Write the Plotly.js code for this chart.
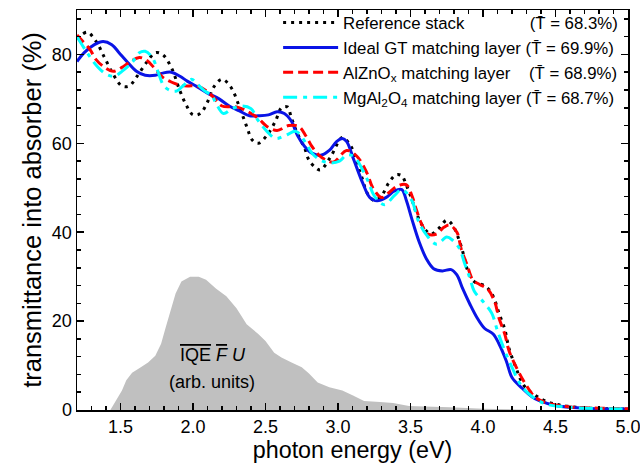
<!DOCTYPE html>
<html>
<head>
<meta charset="utf-8">
<script src="https://cdn.plot.ly/plotly-3.0.1.min.js"></script>
<style>html,body{margin:0;padding:0;background:#fff;}#chart{width:640px;height:472px;}</style>
</head>
<body>
<div id="chart"></div>
<script>
// Reference stack (black dotted)
const E_ref = [1.20,1.27,1.33,1.39,1.45,1.51,1.56,1.61,1.68,1.74,1.79,1.85,1.91,1.96,2.00,2.05,2.10,2.14,2.20,2.26,
  2.32,2.37,2.41,2.45,2.51,2.57,2.61,2.65,2.68,2.72,2.77,2.80,2.85,2.88,2.95,3.03,3.09,3.13,3.17,3.20,
  3.25,3.30,3.35,3.40,3.44,3.47,3.51,3.54,3.58,3.64,3.69,3.75,3.79,3.84,3.87,3.89,3.94,4.02,4.07,4.11,
  4.15,4.18,4.23,4.28,4.36,4.45,4.55,4.70,4.85,5.00];
const T_ref = [83.5,85.0,83.0,79.3,75.5,72.9,72.9,74.9,78.2,80.4,80.0,77.1,71.8,68.2,66.4,66.7,69.3,72.5,74.4,72.7,
  68.2,63.8,60.7,60.0,61.8,65.1,68.0,68.2,65.6,62.2,58.9,56.2,54.4,54.0,57.0,61.3,59.3,55.6,51.8,48.9,
  47.1,48.2,51.1,52.9,52.7,50.7,47.3,44.4,41.6,39.6,40.7,42.7,41.6,37.8,34.4,31.8,28.9,27.8,25.6,21.8,
  18.2,13.8,9.3,5.6,3.3,1.8,1.0,0.5,0.3,0.2];

// Ideal GT matching layer (blue solid)
const E_gt = [1.20,1.25,1.32,1.38,1.44,1.49,1.55,1.61,1.67,1.74,1.79,1.85,1.91,1.96,2.03,2.10,2.18,2.25,2.32,2.39,
  2.45,2.52,2.58,2.63,2.68,2.72,2.77,2.82,2.88,2.94,2.99,3.03,3.06,3.11,3.17,3.22,3.27,3.33,3.39,3.44,
  3.47,3.51,3.56,3.61,3.66,3.72,3.78,3.82,3.86,3.91,3.96,4.01,4.07,4.11,4.16,4.20,4.27,4.34,4.38,4.50,
  4.70,5.00];
const T_gt = [78.4,80.4,82.2,82.9,82.2,80.4,78.2,76.2,75.3,75.3,75.8,76.0,75.1,74.0,72.7,71.3,70.0,68.4,67.3,66.2,
  66.2,66.4,67.1,66.7,64.9,61.8,59.3,57.8,57.3,58.4,60.4,61.1,60.4,56.2,51.1,47.8,47.1,47.8,49.3,49.6,
  47.3,42.9,37.8,34.0,31.8,31.3,31.6,30.4,27.3,23.8,20.7,18.4,17.1,14.9,11.1,7.3,4.9,2.9,2.2,1.0,
  0.4,0.2];

// AlZnOx matching layer (red dashed)
const E_azo = [1.20,1.23,1.29,1.33,1.39,1.45,1.51,1.56,1.63,1.68,1.74,1.79,1.85,1.91,1.96,2.03,2.10,2.14,2.20,2.30,
  2.37,2.45,2.51,2.58,2.66,2.73,2.78,2.82,2.87,2.92,2.97,3.06,3.13,3.20,3.24,3.30,3.35,3.41,3.47,3.51,
  3.54,3.58,3.62,3.68,3.73,3.77,3.82,3.85,3.89,3.93,3.98,4.03,4.08,4.11,4.15,4.18,4.23,4.29,4.36,4.45,
  4.60,4.80,5.00];
const T_azo = [84.4,83.3,81.1,78.9,77.1,76.2,77.1,78.2,79.3,78.7,76.7,74.9,73.8,73.1,72.9,72.9,71.6,70.4,68.4,68.2,
  67.3,65.6,63.8,62.9,64.0,63.8,61.6,59.3,57.3,56.2,55.8,58.4,57.1,53.3,50.0,47.8,48.9,50.4,50.7,48.2,
  45.1,41.6,39.6,39.6,41.1,41.6,40.0,36.2,32.7,29.3,28.2,27.3,24.4,20.7,17.1,13.3,9.6,6.0,2.9,1.5,
  0.7,0.4,0.3];

// MgAl2O4 matching layer (cyan dash-dot)
const E_mao = [1.20,1.27,1.34,1.40,1.46,1.51,1.58,1.63,1.67,1.72,1.76,1.80,1.85,1.89,1.93,1.99,2.03,2.08,2.13,2.16,
  2.21,2.27,2.34,2.40,2.45,2.51,2.57,2.64,2.71,2.78,2.82,2.88,2.94,3.01,3.06,3.11,3.20,3.25,3.32,3.39,
  3.44,3.51,3.55,3.61,3.68,3.75,3.79,3.84,3.87,3.91,3.94,4.00,4.06,4.10,4.15,4.20,4.25,4.31,4.42,4.60,
  5.00];
const T_mao = [84.0,80.4,77.3,75.6,75.1,76.2,78.2,80.4,80.7,79.3,76.0,72.9,71.8,71.8,72.9,74.4,73.3,71.8,70.7,68.9,
  66.7,67.8,68.4,67.8,65.1,62.7,61.1,61.8,62.7,60.0,57.8,56.2,55.6,56.0,57.4,57.0,52.0,48.2,46.2,48.3,
  49.6,47.1,42.9,39.4,37.3,38.9,38.2,36.2,33.3,29.6,26.7,24.4,21.8,17.8,13.3,9.6,6.2,3.8,1.5,0.6,
  0.2];

// IQE * F * U (arb. units), gray area
const E_iqe = [1.43,1.47,1.51,1.54,1.58,1.64,1.69,1.74,1.78,1.81,1.85,1.88,1.92,1.98,2.04,2.09,2.16,2.23,2.30,2.37,
  2.45,2.50,2.56,2.61,2.68,2.75,2.80,2.86,2.94,3.03,3.10,3.18,3.29,3.38,3.49,3.61,3.77,4.00,4.20,4.40];
const V_iqe = [0,2.2,4.4,6.7,8.4,9.6,10.7,12.2,14.9,18.4,22.9,26.2,28.9,30.0,30.0,29.3,27.3,25.6,22.9,19.3,
  17.1,15.5,12.9,11.8,10.7,9.6,8.2,6.2,5.1,4.4,3.3,2.0,1.8,1.6,0.9,0.7,0.6,0.3,0.1,0];

const X_TICKS = [1.5,2.0,2.5,3.0,3.5,4.0,4.5,5.0];
const X_TICKTEXT = ['1.5','2.0','2.5','3.0','3.5','4.0','4.5','5.0'];

const NB = '\u00A0';
const TB = 'T\u0304';
const names = [
  'Reference stack' + NB.repeat(14) + '(' + TB + ' = 68.3%)',
  'Ideal GT matching layer (' + TB + ' = 69.9%)',
  'AlZnO<sub>x</sub> matching layer' + NB.repeat(4) + '(' + TB + ' = 68.9%)',
  'MgAl<sub>2</sub>O<sub>4</sub> matching layer (' + TB + ' = 68.7%)'
];

const FONT = 'Liberation Sans, Arial, sans-serif';

const traces = [
  {x: E_iqe, y: V_iqe, type: 'scatter', mode: 'lines', fill: 'tozeroy', fillcolor: '#c0c0c0',
   line: {width: 0, color: '#c0c0c0'}, showlegend: false, hoverinfo: 'skip'},
  {x: E_ref, y: T_ref, type: 'scatter', mode: 'lines', name: names[0], legendgroup: 'a',
   line: {color: '#000000', width: 3, dash: '3px,5px', shape: 'spline', smoothing: 1}},
  {x: E_gt, y: T_gt, type: 'scatter', mode: 'lines', name: names[1], legendgroup: 'b',
   line: {color: '#0a14e6', width: 3, shape: 'spline', smoothing: 1}},
  {x: E_azo, y: T_azo, type: 'scatter', mode: 'lines', name: names[2], legendgroup: 'c',
   line: {color: '#ff0000', width: 3, dash: '10px,5px', shape: 'spline', smoothing: 1}},
  {x: E_mao, y: T_mao, type: 'scatter', mode: 'lines', name: names[3], legendgroup: 'd',
   line: {color: '#00ffff', width: 3, dash: '14px,6px,4px,6px', shape: 'spline', smoothing: 1}}
];

const axisCommon = {
  showline: true, linecolor: '#000', linewidth: 1.5, mirror: 'ticks',
  ticks: 'inside', ticklen: 7, tickwidth: 1.5, tickcolor: '#000',
  showgrid: false, zeroline: false, ticklabeloverflow: 'allow', automargin: false,
  tickfont: {family: FONT, size: 18, color: '#000'}
};

const layout = {
  width: 640, height: 472,
  margin: {l: 77, r: 12, t: 5, b: 62},
  paper_bgcolor: '#fff', plot_bgcolor: '#fff',
  font: {family: FONT, color: '#000'},
  xaxis: Object.assign({}, axisCommon, {
    range: [1.2, 5.0], tickmode: 'array', tickvals: X_TICKS, ticktext: X_TICKTEXT,
    minor: {dtick: 0.1, tick0: 1.2, ticks: 'inside', ticklen: 4, tickwidth: 1.5, tickcolor: '#000'},
    title: {text: 'photon energy (eV)', font: {family: FONT, size: 23.3, color: '#000'}, standoff: 5}
  }),
  yaxis: Object.assign({}, axisCommon, {
    range: [0, 90], tick0: 0, dtick: 20,
    minor: {dtick: 4, ticks: 'inside', ticklen: 4, tickwidth: 1.5, tickcolor: '#000'},
    title: {text: 'transmittance into absorber (%)', font: {family: FONT, size: 25.5, color: '#000'}, standoff: 3}
  }),
  legend: {
    x: 0.365, xanchor: 'left', y: 1.012, yanchor: 'top',
    bgcolor: 'rgba(0,0,0,0)', borderwidth: 0, itemwidth: 55,
    font: {family: FONT, size: 16.8, color: '#000'},
    traceorder: 'grouped', tracegroupgap: 0
  },
  annotations: [
    {x: 2.14, y: 12.3, xref: 'x', yref: 'y', showarrow: false,
     text: '<span style="text-decoration:overline">IQE</span> <i><span style="text-decoration:overline">F</span></i> <i>U</i>',
     font: {family: FONT, size: 18, color: '#000'}},
    {x: 2.13, y: 6.4, xref: 'x', yref: 'y', showarrow: false,
     text: '(arb. units)', font: {family: FONT, size: 18, color: '#000'}}
  ],
  showlegend: true
};

Plotly.newPlot('chart', traces, layout, {displayModeBar: false, staticPlot: true});
</script>
</body>
</html>
